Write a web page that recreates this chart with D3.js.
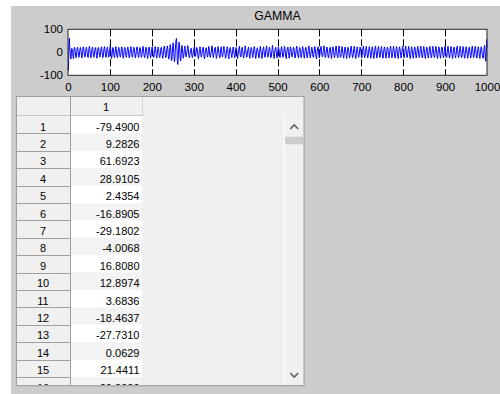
<!DOCTYPE html>
<html>
<head>
<meta charset="utf-8">
<script src="https://cdn.jsdelivr.net/npm/d3@7"></script>
<style>
  body { margin: 0; background: #ffffff; }
  svg { display: block; font-family: "Liberation Sans", Arial, sans-serif; }
</style>
</head>
<body>
<svg id="fig" width="500" height="394"></svg>
<script>
// Plot title and axis ticks
const plotTitle = "GAMMA";
const xTicks = [0, 100, 200, 300, 400, 500, 600, 700, 800, 900, 1000];
const yTicks = [-100, 0, 100];
const xDomain = [0, 1000];
const yDomain = [-100, 100];

// Gamma-band signal, one value per sample (samples 1..1000)
const gamma = [
  -79.4900, 9.2826, 61.6923, 28.9105, 2.4354, -16.8905, -29.1802, -4.0068,
  16.8080, 12.8974, 3.6836, -18.4637, -27.7310, 0.0629, 21.4411, 20.0030,
  5,-12,-24,-18,2,19,23,8,-11,-22,-15,4,18,21,6,-13,-25,-17,3,20,
  24,10,-9,-21,-19,-1,16,22,12,-7,-20,-23,-6,14,26,15,-5,-19,-24,-9,
  11,23,17,-2,-18,-22,-10,9,21,19,2,-15,-26,-14,7,22,20,4,-13,-21,
  -12,5,18,24,9,-10,-23,-19,0,17,25,13,-6,-20,-22,-4,15,23,11,-8,
  -21,-17,1,19,31,12,-14,-27,-16,6,21,18,1,-16,-23,-8,12,25,16,-4,
  -19,-24,-7,13,22,17,-1,-17,-21,-9,10,24,19,0,-18,-26,-11,8,21,20,
  3,-14,-22,-15,4,19,23,9,-10,-24,-20,-2,16,25,14,-6,-20,-21,-5,12,
  22,18,0,-16,-25,-12,7,20,24,8,-11,-23,-18,1,17,21,10,-9,-22,-19,
  -3,14,26,16,-4,-18,-24,-10,9,22,19,3,-14,-27,-15,5,20,23,7,-12,
  -24,-17,2,18,24,11,-8,-21,-22,-6,13,25,18,-2,-19,-25,-9,10,23,17,
  -1,-17,-23,-12,8,21,22,5,-14,-26,-16,4,20,27,12,-9,-24,-21,-3,16,
  28,17,-6,-27,-30,-8,20,34,22,-10,-36,-33,-2,30,41,18,-18,-42,-31,6,
  38,55,60,18,-35,-53,-28,14,44,36,2,-30,-38,-12,20,30,14,-10,-26,-20,
  0,18,27,9,-14,-20,-6,3,15,29,14,-9,-17,-24,-8,5,12,18,1,-19,
  -23,-13,2,10,22,26,-3,-18,-12,3,21,17,12,-11,-28,-20,-2,8,24,13,
  -9,-21,-16,-4,12,19,23,-2,-25,-28,-11,8,15,20,3,-10,-21,-13,11,26,
  14,-3,-19,-22,-6,2,18,28,10,-14,-23,-9,-1,16,12,22,-7,-27,-18,-5,
  9,25,18,-4,-13,-25,-17,10,17,24,-2,-16,-21,-6,8,26,12,5,-12,-26,
  -20,1,13,24,17,-8,-18,-28,-4,14,21,16,-3,-11,-23,-8,6,23,19,0,
  -13,-24,-17,12,21,15,4,-16,-27,-9,5,15,26,8,-11,-20,-18,3,19,22,
  9,-12,-25,-15,-6,13,28,13,-3,-22,-20,-10,9,17,23,-1,-19,-26,-8,6,
  21,18,6,-15,-23,-12,5,22,25,7,-9,-27,-16,-2,15,20,11,-7,-20,-25,
  -4,12,26,14,-2,-13,-27,-11,8,19,24,4,-17,-22,-12,9,16,28,3,-14,
  -21,-16,-1,18,23,8,-10,-24,-20,-3,13,30,12,-6,-18,-27,-5,10,19,22,
  2,-19,-25,-8,7,24,17,6,-16,-23,-13,4,21,25,9,-12,-22,-17,-3,18,
  26,10,-8,-20,-28,-4,11,19,23,-1,-13,-26,-12,10,24,16,1,-17,-20,-14,
  6,22,21,7,-12,-25,-16,-2,17,27,10,-6,-19,-24,-4,13,21,15,-5,-23,
  -21,-8,11,25,16,-1,-15,-26,-10,9,20,22,3,-16,-24,-13,4,18,28,8,
  -11,-24,-18,-3,15,22,13,-8,-22,-21,-5,14,25,16,-3,-19,-28,-9,10,19,
  24,2,-15,-25,-12,6,20,26,7,-13,-20,-17,3,17,28,11,-9,-23,-19,-2,
  15,23,14,-6,-21,-25,-7,12,19,22,-2,-17,-27,-10,9,24,18,4,-14,-24,
  -15,3,19,27,9,-11,-18,-24,-1,16,28,13,-8,-22,-20,-6,13,25,14,-4,
  -19,-26,-9,11,23,19,1,-15,-27,-13,6,22,20,7,-12,-25,-16,2,20,27,
  10,-9,-24,-19,-3,15,26,13,-5,-21,-27,-7,12,24,16,-1,-18,-22,-10,9,
  23,20,4,-14,-25,-15,3,19,27,9,-11,-23,-18,-1,17,26,11,-8,-24,-21,
  -5,13,25,16,-2,-19,-26,-8,10,24,19,2,-16,-27,-13,5,21,27,8,-12,
  -25,-17,1,18,26,11,-9,-23,-20,-3,14,25,13,-7,-21,-26,-5,12,24,18,
  1,-17,-26,-11,8,23,21,5,-14,-24,-15,4,20,27,9,-10,-24,-19,-2,16,
  27,13,-5,-21,-25,-7,12,25,17,-1,-18,-27,-9,10,24,19,3,-15,-25,-14,
  5,21,27,8,-12,-24,-17,1,18,27,11,-8,-23,-21,-4,14,26,14,-6,-20,
  -27,-9,11,24,18,1,-16,-26,-12,7,22,23,5,-14,-25,-16,3,20,26,10,
  -9,-23,-20,-2,16,27,13,-6,-21,-25,-7,12,25,17,-2,-19,-27,-10,9,23,
  20,4,-15,-25,-13,5,21,26,8,-11,-24,-19,0,17,26,11,-8,-23,-22,-4,
  14,26,14,-5,-20,-27,-8,11,24,18,1,-17,-26,-11,8,23,21,5,-13,-24,
  -16,3,20,27,9,-10,-23,-20,-2,16,26,12,-7,-21,-25,-6,12,25,17,-1,
  -18,-27,-10,9,23,19,2,-15,-25,-14,5,21,27,8,-11,-24,-18,0,17,26,
  12,-8,-22,-22,-4,14,25,14,-5,-20,-26,-8,11,24,18,1,-16,-26,-12,7,
  22,22,5,-13,-25,-16,3,19,27,10,-9,-23,-20,-2,15,26,13,-6,-21,-25,
  -7,12,24,17,-1,-18,-27,-9,10,24,19,3,-15,-24,-26,-6,18,30,14,-20,
  -39,-12,56,20
];

// Table: column header and the rows shown in the visible part of the table
const columnHeader = "1";
const visibleRows = 16;

const svg = d3.select("#fig");

// figure background
svg.append("rect").attr("x", 0).attr("y", 0).attr("width", 500).attr("height", 394).attr("fill", "#ffffff");
svg.append("rect").attr("x", 11).attr("y", 6).attr("width", 489).attr("height", 388).attr("fill", "#cccccc");

// ---------- plot ----------
const plot = { left: 68, right: 487, top: 29.3, bottom: 75.3 };
const x = d3.scaleLinear().domain(xDomain).range([plot.left, plot.right]);
const y = d3.scaleLinear().domain(yDomain).range([plot.bottom, plot.top]);

svg.append("rect")
  .attr("x", plot.left).attr("y", plot.top)
  .attr("width", plot.right - plot.left).attr("height", plot.bottom - plot.top)
  .attr("fill", "#ffffff");

// vertical grid
svg.append("g").selectAll("line")
  .data(xTicks.filter(t => t > xDomain[0] && t < xDomain[1]))
  .join("line")
  .attr("x1", d => Math.round(x(d)) + 0.5).attr("x2", d => Math.round(x(d)) + 0.5)
  .attr("y1", plot.top).attr("y2", plot.bottom)
  .attr("stroke", "#000").attr("stroke-width", 1)
  .attr("stroke-dasharray", "7,3");

// signal
const line = d3.line().x((d, i) => x(i + 1)).y(d => y(d));
svg.append("path")
  .datum(gamma)
  .attr("d", line)
  .attr("fill", "none")
  .attr("stroke", "#0000ff")
  .attr("stroke-width", 1);

// box
svg.append("rect")
  .attr("x", plot.left).attr("y", plot.top)
  .attr("width", plot.right - plot.left).attr("height", plot.bottom - plot.top)
  .attr("fill", "none").attr("stroke", "#262626").attr("stroke-width", 1);

// axes
const intLabel = d => String(d);
const xAxis = svg.append("g")
  .attr("transform", `translate(0,${plot.bottom})`)
  .call(d3.axisBottom(x).tickValues(xTicks).tickSize(0).tickPadding(8).tickFormat(intLabel));
const yAxis = svg.append("g")
  .attr("transform", `translate(${plot.left},0)`)
  .call(d3.axisLeft(y).tickValues(yTicks).tickSize(0).tickPadding(5).tickFormat(intLabel));
[xAxis, yAxis].forEach(g => {
  g.select(".domain").remove();
  g.selectAll("text").attr("font-family", "Liberation Sans, Arial, sans-serif")
    .attr("font-size", 11.5).attr("fill", "#000");
});

svg.append("text")
  .attr("x", (plot.left + plot.right) / 2).attr("y", 19.5)
  .attr("text-anchor", "middle")
  .attr("font-size", 12.3).attr("fill", "#000")
  .text(plotTitle);

// ---------- table ----------
const tbl = { left: 16.5, top: 96.5, right: 304, bottom: 385.5 };
const colRowHdr = [17, 70];
const colData = [70, 142];
const headerBottom = 116;
const rowH = 17.4;
const sbLeft = 284.5;

svg.append("defs").append("clipPath").attr("id", "tclip")
  .append("rect").attr("x", 17).attr("y", 97).attr("width", sbLeft - 17).attr("height", tbl.bottom - 97.5);

svg.append("rect")
  .attr("x", tbl.left).attr("y", tbl.top)
  .attr("width", tbl.right - tbl.left).attr("height", tbl.bottom - tbl.top)
  .attr("fill", "#f0f0f0").attr("stroke", "#a0a0a0");

const cells = svg.append("g").attr("clip-path", "url(#tclip)");
const rows = d3.range(visibleRows).map(i => ({ idx: i + 1, value: gamma[i], top: headerBottom + i * rowH }));

// header
cells.append("line").attr("x1", 17).attr("x2", colData[1]).attr("y1", headerBottom - 0.5).attr("y2", headerBottom - 0.5)
  .attr("stroke", "#c8c8c8");
cells.append("line").attr("x1", colData[1] + 0.5).attr("x2", colData[1] + 0.5).attr("y1", 97).attr("y2", headerBottom)
  .attr("stroke", "#d4d4d4");
cells.append("text")
  .attr("x", (colData[0] + colData[1]) / 2).attr("y", 111)
  .attr("text-anchor", "middle").attr("font-size", 11).attr("fill", "#000")
  .text(columnHeader);

// striped data cells
cells.selectAll("rect.cell").data(rows).join("rect")
  .attr("class", "cell")
  .attr("x", colData[0]).attr("y", d => d.top)
  .attr("width", colData[1] - colData[0]).attr("height", rowH)
  .attr("fill", d => d.idx % 2 ? "#ffffff" : "#f3f3f3");

// row headers
cells.selectAll("line.rowline").data(rows).join("line")
  .attr("class", "rowline")
  .attr("x1", 17).attr("x2", colRowHdr[1])
  .attr("y1", d => Math.round(d.top + rowH) + 0.5).attr("y2", d => Math.round(d.top + rowH) + 0.5)
  .attr("stroke", "#a0a0a0");
cells.append("line").attr("x1", colRowHdr[1] + 0.5).attr("x2", colRowHdr[1] + 0.5)
  .attr("y1", 97).attr("y2", tbl.bottom).attr("stroke", "#a0a0a0");

cells.selectAll("text.rowlabel").data(rows).join("text")
  .attr("class", "rowlabel")
  .attr("x", (colRowHdr[0] + colRowHdr[1]) / 2 - 0.5).attr("y", d => d.top + 14.6)
  .attr("text-anchor", "middle").attr("font-size", 11).attr("fill", "#000")
  .text(d => d.idx);

cells.selectAll("text.val").data(rows).join("text")
  .attr("class", "val")
  .attr("x", colData[1] - 2.5).attr("y", d => d.top + 14.6)
  .attr("text-anchor", "end").attr("font-size", 11).attr("fill", "#000")
  .text(d => d.value.toFixed(4));

// vertical scrollbar
svg.append("line").attr("x1", sbLeft).attr("x2", sbLeft).attr("y1", headerBottom).attr("y2", tbl.bottom - 0.5)
  .attr("stroke", "#ffffff");
svg.append("rect").attr("x", sbLeft + 0.5).attr("y", 136.7).attr("width", tbl.right - sbLeft - 1.5).attr("height", 7.6)
  .attr("fill", "#cdcdcd");
const sbMid = (sbLeft + tbl.right) / 2;
svg.append("path").attr("d", `M${sbMid - 4},129 L${sbMid},125 L${sbMid + 4},129`)
  .attr("fill", "none").attr("stroke", "#606060").attr("stroke-width", 1.6);
svg.append("path").attr("d", `M${sbMid - 4},373 L${sbMid},377 L${sbMid + 4},373`)
  .attr("fill", "none").attr("stroke", "#606060").attr("stroke-width", 1.6);

// raised edge on right and bottom of the table
svg.append("line").attr("x1", tbl.right + 0.5).attr("x2", tbl.right + 0.5).attr("y1", tbl.top).attr("y2", tbl.bottom + 1)
  .attr("stroke", "#b0b0b0");
svg.append("line").attr("x1", tbl.left).attr("x2", tbl.right + 1).attr("y1", tbl.bottom + 0.5).attr("y2", tbl.bottom + 0.5)
  .attr("stroke", "#b0b0b0");
</script>
</body>
</html>
